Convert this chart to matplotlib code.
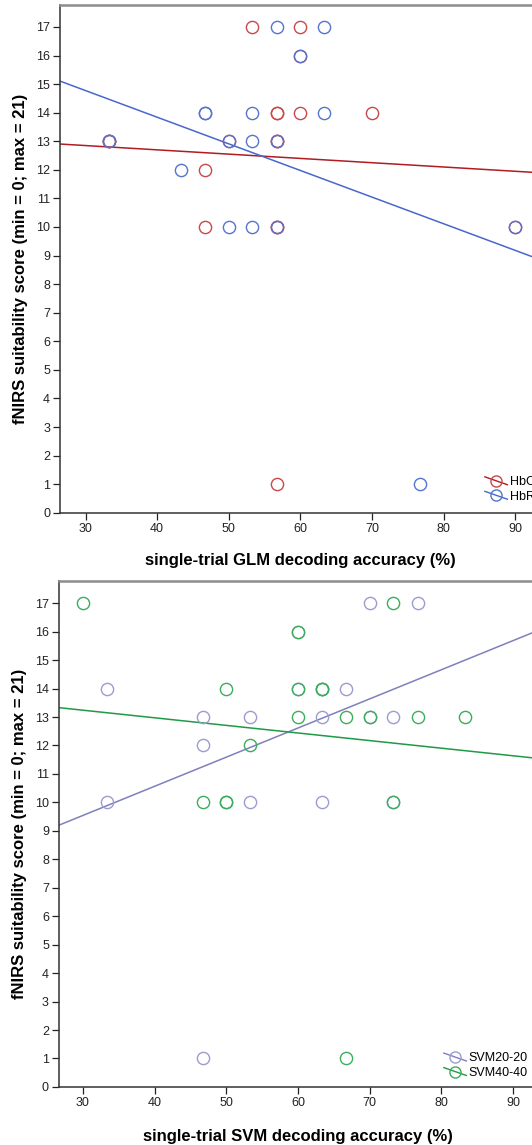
import numpy as np
import matplotlib
matplotlib.use("Agg")
import matplotlib.pyplot as plt
from matplotlib.legend_handler import HandlerLine2D
from matplotlib.lines import Line2D

plt.rcParams['font.family'] = ['Liberation Sans', 'DejaVu Sans']

# top panel: GLM accuracy vs score
glm_hbo_acc = [53.3, 60.0, 60.0, 56.7, 56.7, 60.0, 70.0, 33.3, 33.3, 50.0, 56.7, 56.7, 46.7, 46.7, 56.7, 56.7, 90.0, 56.7]
glm_hbo_score = [17, 17, 16, 14, 14, 14, 14, 13, 13, 13, 13, 13, 12, 10, 10, 10, 10, 1]
glm_hbr_acc = [56.7, 63.3, 60.0, 46.7, 46.7, 53.3, 63.3, 33.3, 33.3, 50.0, 53.3, 56.7, 43.3, 50.0, 53.3, 56.7, 90.0, 76.7]
glm_hbr_score = [17, 17, 16, 14, 14, 14, 14, 13, 13, 13, 13, 13, 12, 10, 10, 10, 10, 1]
# fit lines (intercept, slope)
glm_hbo_fit = (13.30, -0.0150)
glm_hbr_fit = (17.57, -0.0932)

# bottom panel: SVM accuracy vs score
svm20_acc = [70.0, 76.7, 60.0, 33.3, 60.0, 63.3, 66.7, 46.7, 53.3, 63.3, 70.0, 73.3, 46.7, 33.3, 53.3, 63.3, 73.3, 46.7]
svm20_score = [17, 17, 16, 14, 14, 14, 14, 13, 13, 13, 13, 13, 12, 10, 10, 10, 10, 1]
svm40_acc = [30.0, 73.3, 60.0, 50.0, 60.0, 63.3, 63.3, 60.0, 66.7, 70.0, 76.7, 83.3, 53.3, 46.7, 50.0, 50.0, 73.3, 66.7]
svm40_score = [17, 17, 16, 14, 14, 14, 14, 13, 13, 13, 13, 13, 12, 10, 10, 10, 10, 1]
svm20_fit = (6.47, 0.1024)
svm40_fit = (14.04, -0.0267)

xticks = [30, 40, 50, 60, 70, 80, 90]
yticks = list(range(0, 18))


class DiagHandler(HandlerLine2D):
    # legend line drawn diagonally through the marker
    def create_artists(self, legend, orig_handle, xdescent, ydescent,
                       width, height, fontsize, trans):
        arts = super().create_artists(legend, orig_handle, xdescent, ydescent,
                                      width, height, fontsize, trans)
        line = arts[0]
        xd = line.get_xdata()
        line.set_ydata(np.linspace(height * 0.95 - ydescent, -ydescent + height * 0.05, len(xd)))
        return arts


def panel(ax, series, xlab, xmin, leg_anchor):
    for acc, score, fit, mcol, lcol, lab in series:
        ax.plot(acc, score, 'o', ms=8.8, mfc='none', mec=mcol, mew=1.0, zorder=3)
        xs = np.array([xmin, 95])
        ax.plot(xs, fit[0] + fit[1] * xs, color=lcol, lw=1.1, zorder=2)
    ax.set_xlim(xmin, 95)
    ax.set_ylim(0, 17.78)
    ax.set_xticks(xticks)
    ax.set_yticks(yticks)
    ax.tick_params(direction='out', length=5, width=0.9, labelsize=9, pad=2.5, colors='#222222')
    ax.spines['right'].set_visible(False)
    ax.spines['top'].set_color('#8c8c8c')
    ax.spines['top'].set_linewidth(1.8)
    for s in ['left', 'bottom']:
        ax.spines[s].set_color('#333333')
        ax.spines[s].set_linewidth(1.1)
    ax.set_ylabel('fNIRS suitability score (min = 0; max = 21)', fontsize=12, fontweight='bold')
    ax.set_xlabel(xlab, fontsize=12, fontweight='bold')
    handles = [Line2D([], [], color=s[4], lw=1.0, marker='o', ms=8.0, mfc='none', mec=s[3], mew=1.0)
               for s in series]
    ax.legend(handles, [s[5] for s in series], loc='lower left', bbox_to_anchor=leg_anchor,
              frameon=False, fontsize=9, handlelength=1.8, handletextpad=0.2,
              labelspacing=0.2, borderaxespad=0, handler_map={Line2D: DiagHandler()})


fig = plt.figure(figsize=(5.32, 11.45), dpi=100)

ax1 = fig.add_axes([0.1137, 0.5522, 0.922, 0.4437])
panel(ax1, [
    (glm_hbo_acc, glm_hbo_score, glm_hbo_fit, '#c8484a', '#b01c22', 'HbO'),
    (glm_hbr_acc, glm_hbr_score, glm_hbr_fit, '#5673cf', '#4768cc', 'HbR'),
], 'single-trial GLM decoding accuracy (%)', 26.5, (0.855, 0.01))
ax1.yaxis.set_label_coords(-0.066, 0.5)
ax1.xaxis.set_label_coords(0.49, -0.079)

ax2 = fig.add_axes([0.1115, 0.0507, 0.9205, 0.4419])
panel(ax2, [
    (svm20_acc, svm20_score, svm20_fit, '#9c9cd0', '#7f7fbd', 'SVM20-20'),
    (svm40_acc, svm40_score, svm40_fit, '#3aad5c', '#1f9a47', 'SVM40-40'),
], 'single-trial SVM decoding accuracy (%)', 26.7, (0.775, 0.006))
ax2.yaxis.set_label_coords(-0.066, 0.5)
ax2.xaxis.set_label_coords(0.487, -0.083)

fig.savefig('out.png', dpi=100)
